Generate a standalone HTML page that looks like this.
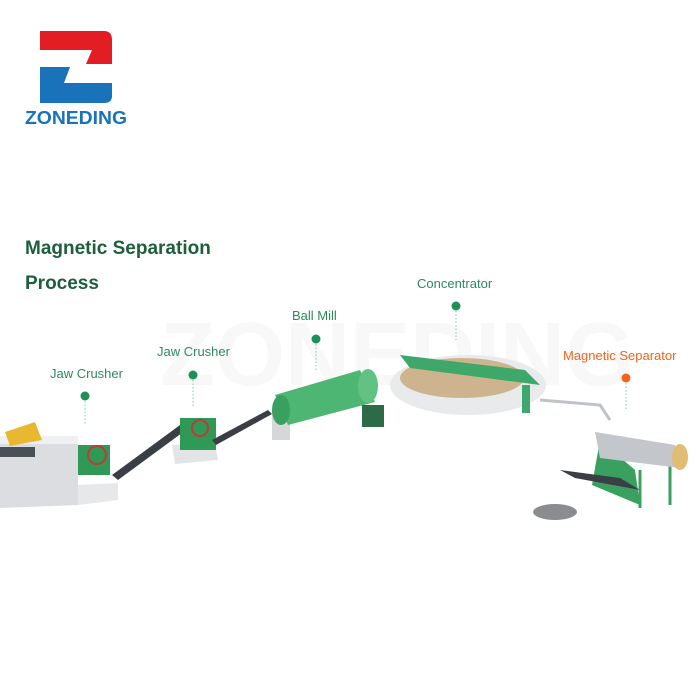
<!DOCTYPE html>
<html><head><meta charset="utf-8"><style>
html,body{margin:0;padding:0;background:#fff;width:700px;height:700px;overflow:hidden}
svg{display:block}
text{font-family:"Liberation Sans",sans-serif}
</style></head><body>
<svg width="700" height="700" viewBox="0 0 700 700" xmlns="http://www.w3.org/2000/svg">
<rect width="700" height="700" fill="#fff"/>
<!-- logo -->
<path d="M40 31 H104 Q112 31 112 40 V64 H86 L92 50 H40 Z" fill="#e31d24"/>
<path d="M40 67 H70 L64 83 H112 V96 Q112 103 104 103 H40 Z" fill="#1a72bb"/>
<text x="25" y="124" font-size="18" font-weight="bold" fill="#1a72bb" textLength="102" lengthAdjust="spacingAndGlyphs">ZONEDING</text>
<!-- title -->
<text x="25" y="254" font-size="19" font-weight="bold" fill="#1e5e3c">Magnetic Separation</text>
<text x="25" y="289" font-size="19" font-weight="bold" fill="#1e5e3c">Process</text>
<!-- watermark -->
<text x="160" y="385" font-size="90" font-weight="bold" fill="#f8f8f8">ZONEDING</text>
<!-- labels -->
<g font-size="13" fill="#2e8a5c">
<text x="50" y="378">Jaw Crusher</text>
<text x="157" y="356">Jaw Crusher</text>
<text x="292" y="320">Ball Mill</text>
<text x="417" y="288">Concentrator</text>
</g>
<text x="563" y="360" font-size="13" fill="#f0641e">Magnetic Separator</text>
<g fill="#1f8f5a"><circle cx="85" cy="396" r="4.5"/><circle cx="193" cy="375" r="4.5"/><circle cx="316" cy="339" r="4.5"/><circle cx="456" cy="306" r="4.5"/></g>
<circle cx="626" cy="378" r="4.5" fill="#f0641e"/>
<g stroke="#9ccfb4" stroke-dasharray="1.5 2" stroke-width="1.2">
<line x1="85" y1="401" x2="85" y2="425"/><line x1="193" y1="380" x2="193" y2="408"/><line x1="316" y1="344" x2="316" y2="372"/><line x1="456" y1="311" x2="456" y2="340"/><line x1="626" y1="383" x2="626" y2="410"/></g>
<!-- base block -->
<polygon points="0,440 50,436 78,440 78,505 0,508" fill="#dcdde0"/>
<polygon points="78,485 118,483 118,500 78,505" fill="#e7e8ea"/>
<rect x="0" y="436" width="78" height="8" fill="#eef0f1"/>
<polygon points="5,432 35,422 42,440 10,446" fill="#e8b830"/>
<rect x="0" y="447" width="35" height="10" fill="#4a5058"/>
<!-- jaw crusher 1 -->
<rect x="78" y="445" width="32" height="30" fill="#2f9a55"/>
<circle cx="97" cy="455" r="9" fill="none" stroke="#c0393b" stroke-width="2"/>
<!-- conveyor 1 -->
<polygon points="112,475 180,425 186,430 118,480" fill="#3a3f45"/>
<!-- block 2 -->
<polygon points="172,445 215,443 218,460 175,464" fill="#e3e4e6"/>
<rect x="180" y="418" width="36" height="32" fill="#2f9a55"/>
<circle cx="200" cy="428" r="8" fill="none" stroke="#c0393b" stroke-width="2"/>
<!-- conveyor 2 -->
<polygon points="212,440 268,410 272,414 216,445" fill="#3a3f45"/>
<!-- ball mill -->
<rect x="272" y="410" width="18" height="30" fill="#d5d7d9"/>
<polygon points="275,395 360,370 375,402 288,425" fill="#4cb672"/>
<ellipse cx="281" cy="410" rx="9" ry="15" fill="#3aa060"/>
<ellipse cx="368" cy="386" rx="10" ry="17" fill="#62c283"/>
<rect x="362" y="405" width="22" height="22" fill="#2c6a48"/>
<!-- concentrator -->
<ellipse cx="468" cy="385" rx="78" ry="30" fill="#e8eaeb"/>
<ellipse cx="462" cy="378" rx="62" ry="20" fill="#cdb48e"/>
<polygon points="400,355 525,370 540,385 410,368" fill="#3da86a"/>
<rect x="522" y="385" width="8" height="28" fill="#3da86a"/>
<!-- pipe -->
<polyline points="540,400 600,405 610,420" fill="none" stroke="#bfc3c7" stroke-width="3"/>
<!-- magnetic separator -->
<polygon points="592,485 600,440 635,470 640,505" fill="#3aa060"/>
<line x1="640" y1="470" x2="640" y2="508" stroke="#3aa060" stroke-width="3"/>
<line x1="670" y1="460" x2="670" y2="505" stroke="#3aa060" stroke-width="3"/>
<polygon points="595,432 675,445 680,468 600,458" fill="#c3c6ca"/>
<ellipse cx="680" cy="457" rx="8" ry="13" fill="#e0bd72"/>
<polygon points="560,470 620,478 640,490 575,478" fill="#3a3f45"/>
<ellipse cx="555" cy="512" rx="22" ry="8" fill="#8a8d90"/>
</svg>
</body></html>
